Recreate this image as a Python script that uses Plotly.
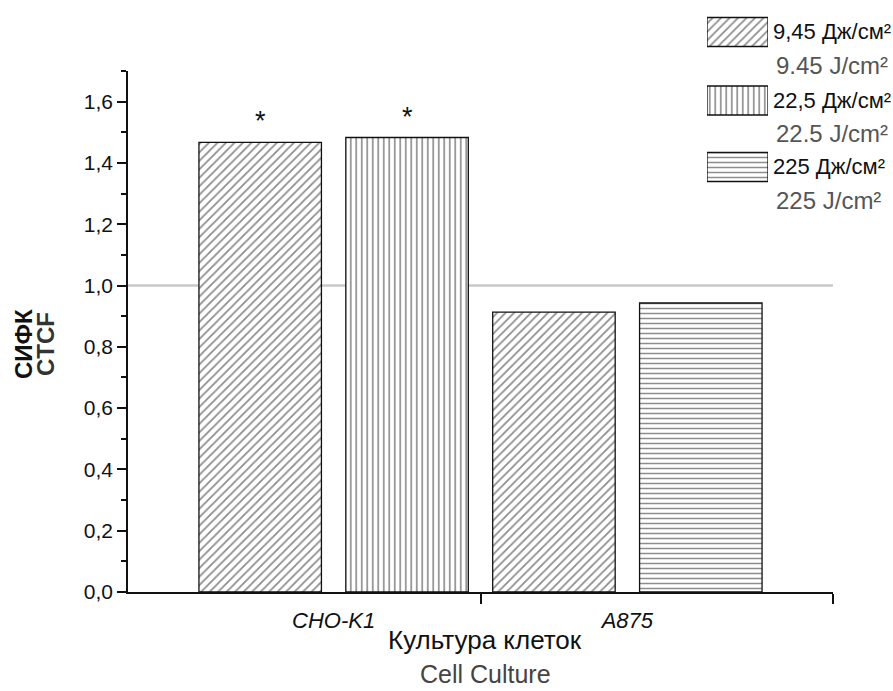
import plotly.graph_objects as go

# Data
cultures = ["CHO-K1", "A875"]
dose_labels_ru = ["9,45 Дж/см²", "22,5 Дж/см²", "225 Дж/см²"]
dose_labels_en = ["9.45 J/cm²", "22.5 J/cm²", "225 J/cm²"]
bar_culture = [1, 1, 2, 2]            # index position of the culture (1 = CHO-K1, 2 = A875)
bar_side = [-1, 1, -1, 1]             # left / right bar inside the group
bar_dose = [0, 1, 0, 2]               # which dose each bar belongs to
ctcf = [1.467, 1.483, 0.913, 0.943]
significant = [True, True, False, False]
y_ticks = [0.0, 0.2, 0.4, 0.6, 0.8, 1.0, 1.2, 1.4, 1.6]

W, H = 893, 691
FONT = "Liberation Sans, Arial, sans-serif"
patterns = ["/", "|", "-"]
pattern_sizes = [6, 5.5, 5]
BAR_W = 0.417
OFFSET = 0.25

# plot area in pixels
PX_L, PX_R, PX_T, PX_B = 128, 833, 71, 592


def px_x(p):
    return p / W


def px_y(p):
    return 1 - p / H


def bar_marker(d):
    return dict(color="white",
                line=dict(color="#111111", width=1.3),
                pattern=dict(shape=patterns[d], size=pattern_sizes[d], solidity=0.3,
                             fgcolor="#1c1c1c", bgcolor="white"))


fig = go.Figure()

# main bars
for d in range(3):
    xs = [bar_culture[i] + OFFSET * bar_side[i] for i in range(4) if bar_dose[i] == d]
    ys = [ctcf[i] for i in range(4) if bar_dose[i] == d]
    fig.add_trace(go.Bar(
        x=xs, y=ys, width=BAR_W, marker=bar_marker(d),
        showlegend=False, hoverinfo="skip", xaxis="x", yaxis="y",
    ))

# legend swatches drawn as bars on their own small axes
swatch_rows = [32, 100.5, 167]
for d in range(3):
    fig.add_trace(go.Bar(
        x=[1], y=[swatch_rows[d]], width=29, orientation="h", base=0,
        marker=bar_marker(d),
        showlegend=False, hoverinfo="skip", xaxis="x3", yaxis="y3",
    ))

annotations = []
# significance marks
for i in range(4):
    if significant[i]:
        annotations.append(dict(
            x=bar_culture[i] + OFFSET * bar_side[i], y=ctcf[i], xref="x", yref="y",
            text="*", showarrow=False, yanchor="bottom", yshift=4,
            font=dict(family=FONT, size=27, color="#111111")))

# legend texts
for d in range(3):
    yc = swatch_rows[d]
    annotations.append(dict(
        x=px_x(771), y=px_y(yc), xref="paper", yref="paper", xanchor="left", yanchor="middle",
        text=dose_labels_ru[d], showarrow=False,
        font=dict(family=FONT, size=22, color="#111111")))
    annotations.append(dict(
        x=px_x(774), y=px_y(yc + 33), xref="paper", yref="paper", xanchor="left", yanchor="middle",
        text=dose_labels_en[d], showarrow=False,
        font=dict(family=FONT, size=24, color="#555555")))

# axis titles
annotations += [
    dict(x=px_x(485), y=px_y(640), xref="paper", yref="paper", text="Культура клеток",
         xanchor="center", yanchor="middle",
         showarrow=False, font=dict(family=FONT, size=26, color="#111111")),
    dict(x=px_x(485), y=px_y(674), xref="paper", yref="paper", text="Cell Culture",
         xanchor="center", yanchor="middle",
         showarrow=False, font=dict(family=FONT, size=25, color="#444444")),
    dict(x=px_x(24), y=px_y(344), xref="paper", yref="paper", text="<b>СИФК</b>",
         xanchor="center", yanchor="middle",
         textangle=-90, showarrow=False, font=dict(family=FONT, size=24, color="#111111")),
    dict(x=px_x(46), y=px_y(344), xref="paper", yref="paper", text="<b>CTCF</b>",
         xanchor="center", yanchor="middle",
         textangle=-90, showarrow=False, font=dict(family=FONT, size=24, color="#333333")),
]

fig.update_layout(
    width=W, height=H,
    margin=dict(l=0, r=0, t=0, b=0),
    paper_bgcolor="white", plot_bgcolor="white",
    separators=",.",
    barmode="overlay",
    showlegend=False,
    annotations=annotations,
    shapes=[dict(type="line", xref="x", yref="y", x0=0.3, x1=2.7, y0=1.0, y1=1.0,
                 line=dict(color="#c8c8c8", width=2.5), layer="below")],
    xaxis=dict(
        domain=[px_x(PX_L), px_x(PX_R)], range=[0.3, 2.7], anchor="y",
        automargin=False,
        tickvals=[1, 2], ticktext=["<i>" + c + "</i>" for c in cultures],
        ticks="", ticklabelstandoff=8, showgrid=False, zeroline=False,
        showline=True, linecolor="#111111", linewidth=1.5,
        tickfont=dict(family=FONT, size=22, color="#111111"),
        minor=dict(tickvals=[1.5, 2.7], ticks="outside", ticklen=10,
                   tickcolor="#111111", tickwidth=1.5, showgrid=False),
        fixedrange=True,
    ),
    yaxis=dict(
        domain=[px_y(PX_B), px_y(PX_T)], range=[0, 1.7], anchor="x",
        automargin=False,
        tickvals=y_ticks, tickformat=".1f",
        ticks="outside", ticklen=9, tickwidth=1.5, tickcolor="#111111",
        showgrid=False, zeroline=False,
        showline=True, linecolor="#111111", linewidth=1.5,
        tickfont=dict(family=FONT, size=21, color="#111111"),
        minor=dict(dtick=0.1, tick0=0, ticks="outside", ticklen=5,
                   tickcolor="#111111", tickwidth=1.5, showgrid=False),
        fixedrange=True,
    ),
    xaxis3=dict(domain=[px_x(707), px_x(768)], range=[0, 1], anchor="y3",
                visible=False, fixedrange=True, automargin=False),
    yaxis3=dict(domain=[px_y(184), px_y(15)], range=[184, 15], anchor="x3",
                visible=False, fixedrange=True, automargin=False),
)

fig.write_html("out.html")
